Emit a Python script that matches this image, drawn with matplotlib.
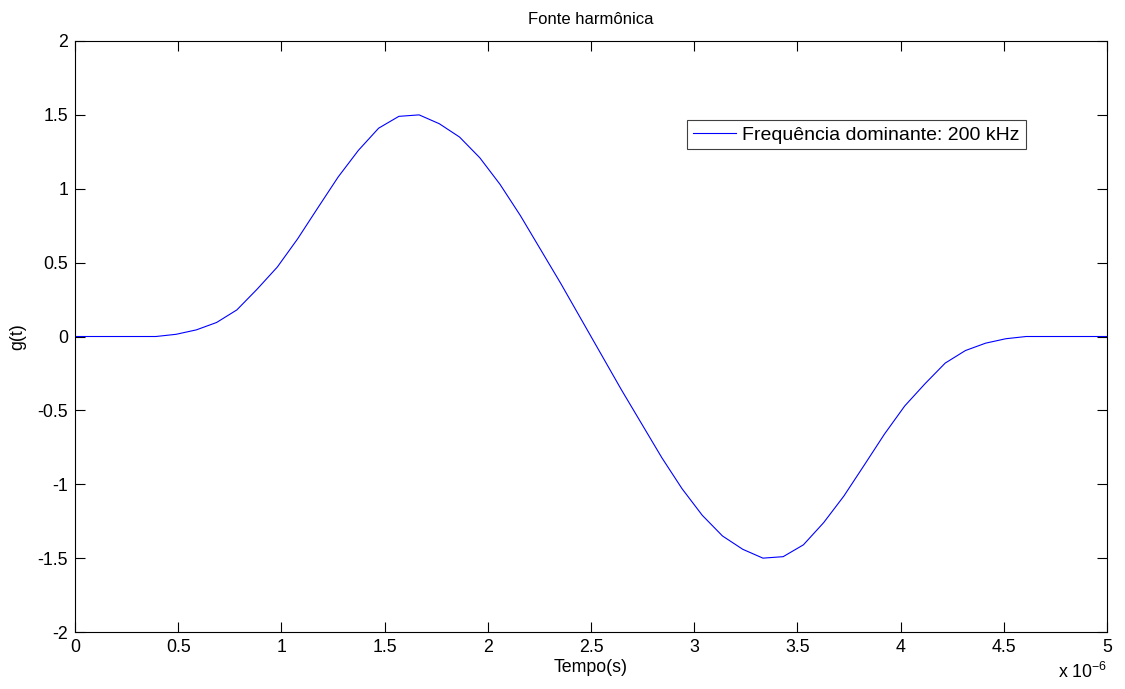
import numpy as np
import matplotlib.pyplot as plt

plt.rcParams['font.family'] = ['Liberation Sans', 'DejaVu Sans']

# sample times in microseconds (step 5/51 us)
t_us = [0.000, 0.098, 0.196, 0.294, 0.392, 0.490, 0.588, 0.686, 0.784, 0.882,
        0.980, 1.078, 1.176, 1.275, 1.373, 1.471, 1.569, 1.667, 1.765, 1.863,
        1.961, 2.059, 2.157, 2.255, 2.353, 2.451, 2.549, 2.647, 2.745, 2.843,
        2.941, 3.039, 3.137, 3.235, 3.333, 3.431, 3.529, 3.627, 3.725, 3.824,
        3.922, 4.020, 4.118, 4.216, 4.314, 4.412, 4.510, 4.608, 4.706, 4.804,
        4.902, 5.000]
g = [0.0, 0.0, 0.0, 0.0, 0.0, 0.015, 0.045, 0.095, 0.18, 0.32,
     0.47, 0.66, 0.87, 1.08, 1.26, 1.41, 1.49, 1.50, 1.44, 1.35,
     1.21, 1.03, 0.82, 0.59, 0.36, 0.12, -0.12, -0.36, -0.59, -0.82,
     -1.03, -1.21, -1.35, -1.44, -1.50, -1.49, -1.41, -1.26, -1.08, -0.87,
     -0.66, -0.47, -0.32, -0.18, -0.095, -0.045, -0.015, 0.0, 0.0, 0.0,
     0.0, 0.0]
xticks_us = [0, 0.5, 1, 1.5, 2, 2.5, 3, 3.5, 4, 4.5, 5]
yticks = [-2, -1.5, -1, -0.5, 0, 0.5, 1, 1.5, 2]

t = np.array(t_us) * 1e-6

fig = plt.figure(figsize=(11.25, 6.89), dpi=100)
ax = fig.add_axes([0.0667, 0.0827, 0.9173, 0.8578])
ax.plot(t, g, color='#0000ff', lw=0.8, label='Frequência dominante: 200 kHz')

ax.set_xlim(0, 5e-6)
ax.set_ylim(-2, 2)
ax.set_xticks(np.array(xticks_us) * 1e-6)
ax.set_xticklabels(['%g' % v for v in xticks_us])
ax.set_yticks(yticks)
ax.set_yticklabels(['%g' % v for v in yticks])
ax.tick_params(direction='in', length=7, width=0.8, top=True, right=True,
               labelsize=12.8, pad=5)
for s in ax.spines.values():
    s.set_linewidth(0.8)

ax.set_title('Fonte harmônica', fontsize=12, pad=12)
ax.set_xlabel('Tempo(s)', fontsize=12.8, labelpad=2)
ax.set_ylabel('g(t)', fontsize=12.8, labelpad=8)
ax.text(1.0, -0.05, r'x 10$^{\mathregular{-6}}$', transform=ax.transAxes, ha='right',
        va='top', fontsize=12.8)

leg = ax.legend(loc='upper left', bbox_to_anchor=(0.593, 0.866), fancybox=False,
                edgecolor='0.25', framealpha=1, fontsize=14, handlelength=2.2,
                borderpad=0.3, borderaxespad=0, handletextpad=0.35)
leg.get_frame().set_linewidth(0.8)

fig.savefig('out.png', dpi=100)
